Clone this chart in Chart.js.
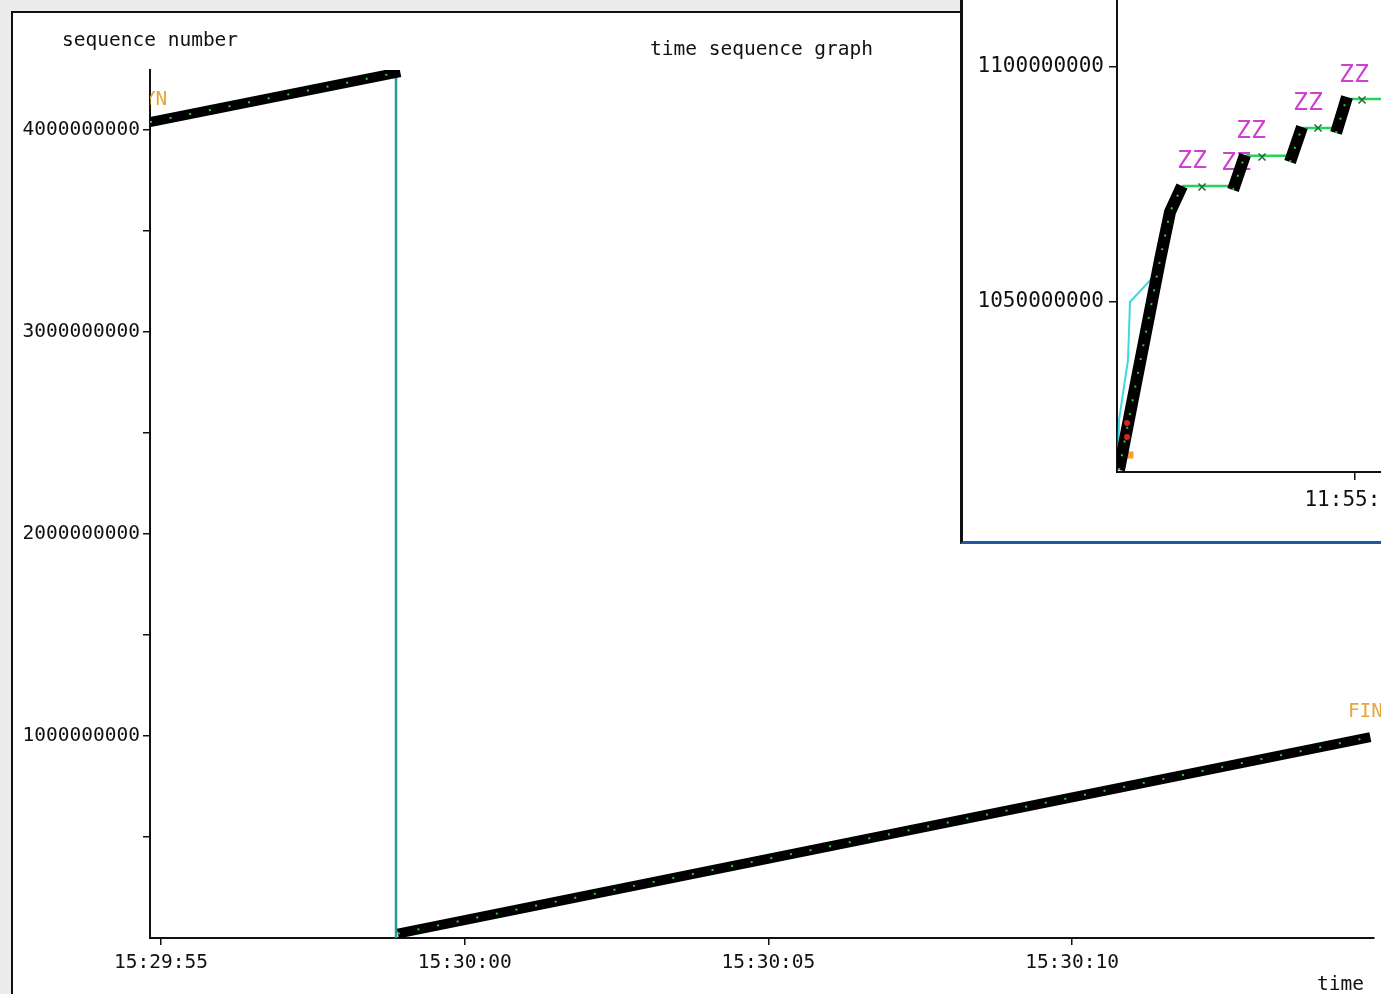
<!DOCTYPE html>
<html>
<head>
<meta charset="utf-8">
<title>time sequence graph</title>
<script src="https://cdn.jsdelivr.net/npm/chart.js@4.4.1/dist/chart.umd.min.js"></script>
<style>
    html, body { margin: 0; padding: 0; width: 1381px; height: 994px; overflow: hidden; background: #ececec; }
    #panel { position: absolute; left: 11px; top: 11px; width: 1420px; height: 1000px; background: #fff; border-left: 2px solid #111; border-top: 2px solid #111; }
    #mainChart { position: absolute; left: 0; top: 0; }
    #inset { position: absolute; left: 960px; top: 0; width: 470px; height: 541px; background: #fff; border-left: 3px solid #111; border-bottom: 3px solid #1d5aa6; overflow: hidden; }
    #insetChart { position: absolute; left: 0; top: 0; }
</style>
</head>
<body>
<div id="panel"></div>
<canvas id="mainChart" width="1420" height="1010" style="width:1420px;height:1010px"></canvas>
<div id="inset"><canvas id="insetChart" width="640" height="541" style="width:640px;height:541px"></canvas></div>
<script>
// main trace: x = seconds after 15:29:55, y = sequence number
var timeTicks = [0, 5, 10, 15];
var timeLabels = ['15:29:55', '15:30:00', '15:30:05', '15:30:10'];
var seqTicks = [500000000, 1000000000, 1500000000, 2000000000, 2500000000, 3000000000, 3500000000, 4000000000];
var seqLabelled = [1000000000, 2000000000, 3000000000, 4000000000];
var sentBeforeWrap = [{x: -0.18, y: 4037000000}, {x: 3.94, y: 4285000000}];
var sentAfterWrap = [{x: 3.90, y: 22000000}, {x: 19.91, y: 994000000}];
var wrapLine = [{x: 3.87, y: 4290000000}, {x: 3.87, y: 0}];
var mainMarks = [
    {x: -0.476, y: 4146000000, text: 'SYN'},
    {x: 19.54, y: 1118000000, text: 'FIN'}
];

// zoomed window: x = seconds after 11:55:00, y = sequence number
var zoomTimeTicks = [20];
var zoomTimeLabels = ['11:55:20'];
var zoomSeqTicks = [1050000000, 1100000000];
var zoomSent = [
    {x: 19.1418, y: 1014260000}, {x: 19.2909, y: 1058940000}, {x: 19.3273, y: 1069150000}, {x: 19.3709, y: 1074680000},
    {x: 19.46, y: null},
    {x: 19.5564, y: 1073830000}, {x: 19.6000, y: 1081280000},
    {x: 19.70, y: null},
    {x: 19.7636, y: 1079790000}, {x: 19.8073, y: 1087230000},
    {x: 19.88, y: null},
    {x: 19.9309, y: 1085960000}, {x: 19.9709, y: 1093620000}
];
var zoomAcks = [
    {x: 19.3709, y: 1074700000}, {x: 19.5564, y: 1074700000},
    {x: 19.6000, y: 1081100000}, {x: 19.7636, y: 1081100000},
    {x: 19.8073, y: 1087000000}, {x: 19.9309, y: 1087000000},
    {x: 19.9709, y: 1093200000}, {x: 20.4000, y: 1093200000}
];
var zoomWindow = [
    {x: 19.1382, y: 1014260000}, {x: 19.1418, y: 1024900000}, {x: 19.1745, y: 1037660000},
    {x: 19.1818, y: 1050000000}, {x: 19.2727, y: 1055740000}, {x: 19.2982, y: 1059360000}
];
var zoomAckMarks = [
    {x: 19.4436, y: 1074470000}, {x: 19.6618, y: 1080850000},
    {x: 19.8655, y: 1087020000}, {x: 20.0255, y: 1092980000}
];
var zoomSynMarks = [{x: 19.1636, y: 1019570000}, {x: 19.1818, y: 1017450000}];
var zoomDropMarks = [{x: 19.1709, y: 1024260000}, {x: 19.1709, y: 1021280000}];
var zoomSleeps = [
    {x: 19.4073, y: 1080000000, text: 'ZZ'},
    {x: 19.5673, y: 1079570000, text: 'ZZ'},
    {x: 19.6218, y: 1086380000, text: 'ZZ'},
    {x: 19.8291, y: 1092340000, text: 'ZZ'},
    {x: 19.9964, y: 1098300000, text: 'ZZ'}
];

var MONO = 'DejaVu Sans Mono';
Chart.defaults.font.family = MONO;
Chart.defaults.color = '#111';

// draws text marks (data coords) under the traces and fixed captions (pixels) on top
var textMarks = {
    id: 'textMarks',
    beforeDatasetsDraw: function (chart, args, opts) {
        var ctx = chart.ctx, xs = chart.scales.x, ys = chart.scales.y;
        ctx.save();
        ctx.beginPath();
        ctx.rect(chart.chartArea.left, 0, chart.width, chart.height);
        ctx.clip();
        ctx.font = opts.markFont;
        ctx.fillStyle = opts.markColor;
        ctx.textAlign = opts.markAlign;
        ctx.textBaseline = 'middle';
        (opts.marks || []).forEach(function (m) {
            ctx.fillText(m.text, xs.getPixelForValue(m.x), ys.getPixelForValue(m.y));
        });
        ctx.restore();
    },
    afterDraw: function (chart, args, opts) {
        var ctx = chart.ctx;
        ctx.save();
        ctx.font = opts.captionFont;
        ctx.fillStyle = '#111';
        ctx.textAlign = 'left';
        ctx.textBaseline = 'middle';
        (opts.captions || []).forEach(function (c) {
            ctx.fillText(c.text, c.px, c.py);
        });
        ctx.restore();
    }
};

function lineSet(data, color, width, order, dash) {
    return {
        data: data,
        borderColor: color,
        backgroundColor: color,
        borderWidth: width,
        borderDash: dash || [],
        pointRadius: 0,
        showLine: true,
        spanGaps: false,
        order: order,
        borderCapStyle: 'butt'
    };
}

// fixed axis sizes, no label overhang padding
function fixWidth(w) {
    return function (scale) { scale.width = w; scale.paddingTop = 0; scale.paddingBottom = 0; };
}
function fixHeight(h) {
    return function (scale) { scale.height = h; scale.paddingLeft = 0; scale.paddingRight = 0; };
}

var mainChart = new Chart(document.getElementById('mainChart'), {
    type: 'line',
    data: {
        datasets: [
            lineSet(sentBeforeWrap.concat([{x: 3.92, y: null}], sentAfterWrap), '#3ec23e', 2, 0, [2, 18]),
            lineSet(sentBeforeWrap.concat([{x: 3.92, y: null}], sentAfterWrap), '#000', 10, 1),
            lineSet(wrapLine, '#249c9c', 2.5, 2)
        ]
    },
    options: {
        responsive: false,
        animation: false,
        layout: { autoPadding: false, padding: { top: 70, right: 46, bottom: 0, left: 0 } },
        plugins: {
            legend: { display: false },
            tooltip: { enabled: false },
            textMarks: {
                marks: mainMarks,
                markFont: '19.5px "' + MONO + '"',
                markColor: '#e9a53c',
                markAlign: 'left',
                captionFont: '19.5px "' + MONO + '"',
                captions: [
                    {text: 'sequence number', px: 62, py: 41},
                    {text: 'time sequence graph', px: 650, py: 50},
                    {text: 'time', px: 1317, py: 985}
                ]
            }
        },
        scales: {
            x: {
                type: 'linear',
                min: -0.18,
                max: 19.97,
                afterFit: fixHeight(72),
                afterBuildTicks: function (scale) {
                    scale.ticks = timeTicks.map(function (v) { return {value: v}; });
                },
                ticks: {
                    autoSkip: false,
                    maxRotation: 0,
                    padding: 6,
                    color: '#111',
                    font: { family: MONO, size: 19.5 },
                    callback: function (v) { return timeLabels[timeTicks.indexOf(v)]; }
                },
                grid: { drawOnChartArea: false, tickLength: 7, color: '#111', lineWidth: 1.5 },
                border: { color: '#111', width: 2 }
            },
            y: {
                type: 'linear',
                min: 0,
                max: 4294967296,
                afterFit: fixWidth(150),
                afterBuildTicks: function (scale) {
                    scale.ticks = seqTicks.map(function (v) { return {value: v}; });
                },
                ticks: {
                    autoSkip: false,
                    padding: 3,
                    color: '#111',
                    font: { family: MONO, size: 19.5 },
                    callback: function (v) { return seqLabelled.indexOf(v) >= 0 ? String(v) : ''; }
                },
                grid: { drawOnChartArea: false, tickLength: 7, color: '#111', lineWidth: 1.5 },
                border: { color: '#111', width: 2 }
            }
        }
    },
    plugins: [textMarks]
});

var insetChart = new Chart(document.getElementById('insetChart'), {
    type: 'line',
    data: {
        datasets: [
            {
                data: zoomAckMarks, showLine: false, order: 0,
                pointStyle: 'crossRot', pointRadius: 5, borderWidth: 1.5,
                borderColor: '#1f6a3c', backgroundColor: '#1f6a3c'
            },
            {
                data: zoomDropMarks, showLine: false, order: 0,
                pointStyle: 'circle', pointRadius: 3, borderWidth: 0,
                backgroundColor: '#d8261c', borderColor: '#d8261c'
            },
            lineSet(zoomSent, '#3ec23e', 2, 1, [2, 12]),
            lineSet(zoomSent, '#000', 12, 2),
            {
                data: zoomSynMarks, showLine: false, order: 3,
                pointStyle: 'rect', pointRadius: 5, borderWidth: 0,
                backgroundColor: '#f0a53a', borderColor: '#f0a53a'
            },
            lineSet(zoomAcks, '#27d45a', 2.5, 4),
            lineSet(zoomWindow, '#3fd7e4', 2, 5)
        ]
    },
    options: {
        responsive: false,
        animation: false,
        layout: { autoPadding: false, padding: { top: 0, right: 20, bottom: 0, left: 0 } },
        plugins: {
            legend: { display: false },
            tooltip: { enabled: false },
            textMarks: {
                marks: zoomSleeps,
                markFont: '25px "' + MONO + '"',
                markColor: '#cf3fd0',
                markAlign: 'center',
                captionFont: '21px "' + MONO + '"',
                captions: []
            }
        },
        scales: {
            x: {
                type: 'linear',
                min: 19.1345,
                max: 20.829,
                afterFit: fixHeight(69),
                afterBuildTicks: function (scale) {
                    scale.ticks = zoomTimeTicks.map(function (v) { return {value: v}; });
                },
                ticks: {
                    autoSkip: false,
                    maxRotation: 0,
                    padding: 8,
                    color: '#111',
                    font: { family: MONO, size: 21 },
                    callback: function (v) { return zoomTimeLabels[zoomTimeTicks.indexOf(v)]; }
                },
                grid: { drawOnChartArea: false, tickLength: 8, color: '#111', lineWidth: 1.5 },
                border: { color: '#111', width: 2 }
            },
            y: {
                type: 'linear',
                min: 1013830000,
                max: 1114260000,
                afterFit: fixWidth(154),
                afterBuildTicks: function (scale) {
                    scale.ticks = zoomSeqTicks.map(function (v) { return {value: v}; });
                },
                ticks: {
                    autoSkip: false,
                    padding: 5,
                    color: '#111',
                    font: { family: MONO, size: 21 },
                    callback: function (v) { return String(v); }
                },
                grid: { drawOnChartArea: false, tickLength: 8, color: '#111', lineWidth: 1.5 },
                border: { color: '#111', width: 2 }
            }
        }
    },
    plugins: [textMarks]
});
</script>
</body>
</html>
